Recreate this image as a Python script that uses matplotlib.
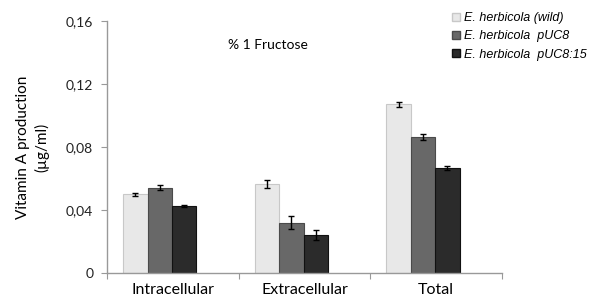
import numpy as np
import matplotlib.pyplot as plt
from matplotlib.patches import Patch

# data
categories = ['Intracellular', 'Extracellular', 'Total']
strains = ['E. herbicola (wild)', 'E. herbicola  pUC8', 'E. herbicola  pUC8:15']
wild = [0.0500, 0.0566, 0.1070]
puc8 = [0.0542, 0.0320, 0.0862]
puc8_15 = [0.0426, 0.0243, 0.0665]
wild_err = [0.0010, 0.0025, 0.0015]
puc8_err = [0.0015, 0.0040, 0.0020]
puc8_15_err = [0.0007, 0.0030, 0.0013]
yticks = [0, 0.04, 0.08, 0.12, 0.16]
ytick_labels = ['0', '0,04', '0,08', '0,12', '0,16']

colors = ['#e8e8e8', '#686868', '#2b2b2b']
edges = ['#c8c8c8', '#4a4a4a', '#111111']

fig = plt.figure(figsize=(5.98, 2.98), dpi=100)
ax = fig.add_axes([0.179, 0.083, 0.6605, 0.8475])

x = np.arange(len(categories))
w = 0.185
shift = -0.1
series = [(wild, wild_err), (puc8, puc8_err), (puc8_15, puc8_15_err)]
for i, (vals, err) in enumerate(series):
    ax.bar(x + shift + (i - 1) * w, vals, w, color=colors[i], edgecolor=edges[i],
           linewidth=0.8, zorder=2)
    ax.errorbar(x + shift + (i - 1) * w, vals, yerr=err, fmt='none', ecolor='black',
                elinewidth=1.0, capsize=2.5, capthick=1.0, zorder=3)

ax.set_xlim(-0.5, 2.5)
ax.set_ylim(0, 0.16)
ax.set_yticks(yticks)
ax.set_yticklabels(ytick_labels, fontsize=10, family='Lato', color='#222222')
ax.set_xticks([-0.5, 0.5, 1.5, 2.5])
ax.set_xticklabels([])
ax.set_xticks(x, minor=True)
ax.set_xticklabels(categories, minor=True, fontsize=11.5, family='Lato')
ax.tick_params(axis='x', which='minor', length=0, pad=7)
ax.tick_params(axis='x', which='major', length=4, color='#999999')
ax.tick_params(axis='y', length=4, color='#999999', pad=6)

for s in ['top', 'right']:
    ax.spines[s].set_visible(False)
for s in ['left', 'bottom']:
    ax.spines[s].set_color('#999999')
    ax.spines[s].set_linewidth(1.0)

ax.set_ylabel('Vitamin A production\n(\u00b5g/ml)', fontsize=11, family='Lato',
              labelpad=12, linespacing=1.3)
fig.text(268 / 598, 1 - 45 / 298, '% 1 Fructose', fontsize=10, family='Lato',
         ha='center', va='center')

handles = [Patch(facecolor=colors[i], edgecolor=edges[i]) for i in range(3)]
fig.legend(handles, strains, loc='upper left', bbox_to_anchor=(441 / 598, 1 - 1 / 298),
           frameon=False, prop={'family': 'Liberation Sans', 'style': 'italic', 'size': 9},
           handlelength=0.6, handleheight=0.6, handletextpad=0.3, labelspacing=0.5)

fig.savefig('out.png', dpi=100)
